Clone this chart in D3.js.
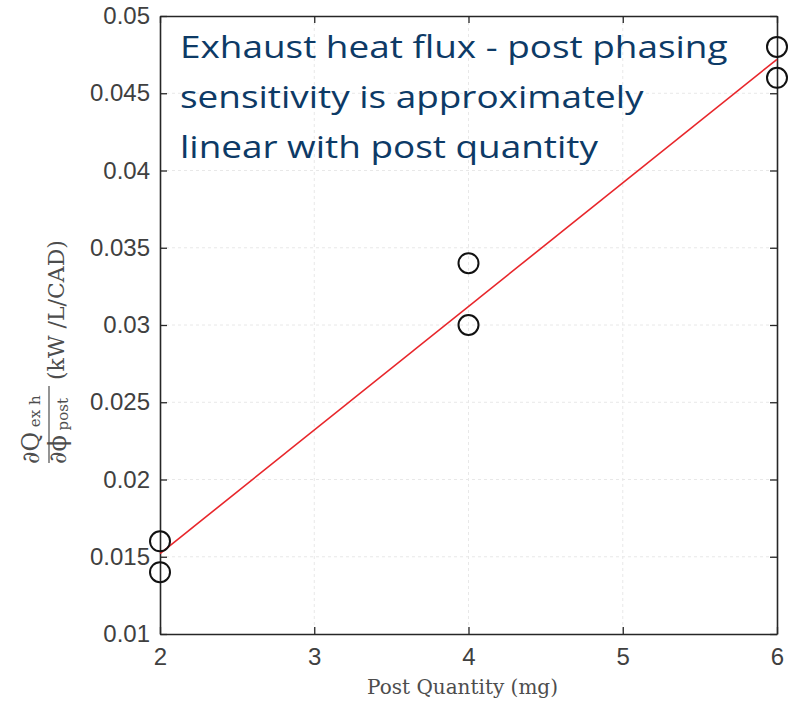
<!DOCTYPE html>
<html><head><meta charset="utf-8">
<script src="https://cdn.jsdelivr.net/npm/d3@7"></script>
<style>html,body{margin:0;padding:0;background:#fff;}</style>
</head><body>
<script>
// ---- data ----
const postQuantity = [2, 2, 4, 4, 6, 6];
const sensitivity = [0.016, 0.014, 0.034, 0.030, 0.048, 0.046];
const fitX = [2, 6];
const fitY = [0.0152, 0.0472];
const xTicks = [2, 3, 4, 5, 6];
const yTicks = [0.01, 0.015, 0.02, 0.025, 0.03, 0.035, 0.04, 0.045, 0.05];
const yTickLabels = ["0.01", "0.015", "0.02", "0.025", "0.03", "0.035", "0.04", "0.045", "0.05"];
const annotation = ["Exhaust heat flux - post phasing", "sensitivity is approximately", "linear with post quantity"];
const xLabel = "Post Quantity (mg)";

const W = 797, H = 701;
const L = 160, R = 777, T = 16, B = 634;
const svg = d3.select("body").append("svg").attr("width", W).attr("height", H);
const x = d3.scaleLinear().domain([2, 6]).range([L, R]);
const y = d3.scaleLinear().domain([0.01, 0.05]).range([B, T]);

// grid
const grid = svg.append("g");
grid.selectAll("line.gx").data(xTicks.slice(1, -1)).join("line")
  .attr("x1", d => x(d)).attr("x2", d => x(d)).attr("y1", T).attr("y2", B)
  .attr("stroke", "#e8e8e8").attr("stroke-width", 1).attr("stroke-dasharray", "3,3");
grid.selectAll("line.gy").data(yTicks.slice(1, -1)).join("line")
  .attr("y1", d => y(d)).attr("y2", d => y(d)).attr("x1", L).attr("x2", R)
  .attr("stroke", "#e8e8e8").attr("stroke-width", 1).attr("stroke-dasharray", "3,3");

// axes
const tickFmt = d => yTickLabels[yTicks.indexOf(d)];
const axL = svg.append("g").attr("transform", `translate(${L},0)`)
  .call(d3.axisLeft(y).tickValues(yTicks).tickFormat(tickFmt).tickSizeInner(-7).tickSizeOuter(0).tickPadding(10));
const axB = svg.append("g").attr("transform", `translate(0,${B})`)
  .call(d3.axisBottom(x).tickValues(xTicks).tickFormat(d3.format("d")).tickSizeInner(-7).tickSizeOuter(0).tickPadding(14));
const axR = svg.append("g").attr("transform", `translate(${R},0)`)
  .call(d3.axisRight(y).tickValues(yTicks).tickFormat("").tickSizeInner(-7).tickSizeOuter(0));
const axT = svg.append("g").attr("transform", `translate(0,${T})`)
  .call(d3.axisTop(x).tickValues(xTicks).tickFormat("").tickSizeInner(-7).tickSizeOuter(0));
[axL, axB, axR, axT].forEach(a => {
  a.select(".domain").attr("stroke", "#262626").attr("stroke-width", 1.6);
  a.selectAll(".tick line").attr("stroke", "#262626").attr("stroke-width", 1.3);
  a.selectAll(".tick text").attr("fill", "#404040").attr("font-family", "Liberation Sans, Arial, sans-serif").attr("font-size", 24);
});

// fit line
svg.append("path").datum(fitX.map((d, i) => [d, fitY[i]]))
  .attr("d", d3.line().x(d => x(d[0])).y(d => y(d[1])))
  .attr("stroke", "#e8262b").attr("stroke-width", 1.6).attr("fill", "none");

// points
svg.selectAll("circle.pt").data(postQuantity.map((d, i) => [d, sensitivity[i]])).join("circle")
  .attr("cx", d => x(d[0])).attr("cy", d => y(d[1])).attr("r", 10)
  .attr("fill", "none").attr("stroke", "#111").attr("stroke-width", 2);

// annotation (horizontally widened like the reference)
svg.append("g").selectAll("text").data(annotation).join("text")
  .attr("x", 180).attr("y", (d, i) => 58 + i * 50)
  .attr("fill", "#0d3a66").attr("font-family", "'Open Sans', Lato, sans-serif").attr("font-size", 31)
  .text(d => d)
  .each(function () {
    const w = this.getComputedTextLength();
    d3.select(this).attr("textLength", w * 1.19).attr("lengthAdjust", "spacingAndGlyphs");
  });

// x label
svg.append("text").attr("x", (L + R) / 2 - 6).attr("y", 694).attr("text-anchor", "middle")
  .attr("fill", "#4d4d4d").attr("font-family", "'DejaVu Serif', serif").attr("font-size", 20)
  .text(xLabel);

// y label (rotated fraction)
const yl = svg.append("g").attr("transform", "translate(0,465) rotate(-90)")
  .attr("fill", "#4d4d4d").attr("font-family", "'DejaVu Serif', serif");
const num = yl.append("text").attr("x", 1).attr("y", 39).attr("font-size", 24);
num.append("tspan").text("\u2202Q");
num.append("tspan").attr("font-size", 15).attr("dy", 1).text(" ex h");
yl.append("line").attr("x1", 2).attr("x2", 79).attr("y1", 49).attr("y2", 49).attr("stroke", "#4d4d4d").attr("stroke-width", 1.2);
const den = yl.append("text").attr("x", 1).attr("y", 66).attr("font-size", 24);
den.append("tspan").text("\u2202\u03D5");
den.append("tspan").attr("font-size", 15).attr("dy", 2).text(" post");
yl.append("text").attr("x", 85).attr("y", 64).attr("font-size", 22).text("(kW /L/CAD)");
</script>
</body></html>
